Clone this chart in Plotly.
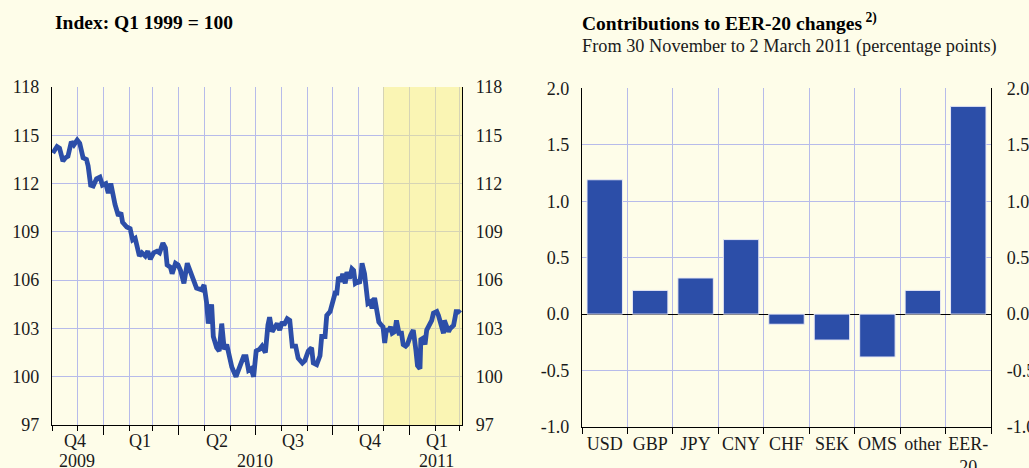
import plotly.graph_objects as go

# ---------------- data ----------------
dates = [
    "2009-11-02", "2009-11-07", "2009-11-10", "2009-11-14", "2009-11-17", "2009-11-20", "2009-11-24", "2009-11-27",
    "2009-12-01", "2009-12-04", "2009-12-08", "2009-12-12", "2009-12-14", "2009-12-17", "2009-12-20", "2009-12-24",
    "2009-12-28", "2009-12-31", "2010-01-04", "2010-01-07", "2010-01-10", "2010-01-12", "2010-01-15", "2010-01-19",
    "2010-01-22", "2010-01-24", "2010-01-29", "2010-02-02", "2010-02-05", "2010-02-08", "2010-02-11", "2010-02-13",
    "2010-02-16", "2010-02-20", "2010-02-23", "2010-02-26", "2010-03-02", "2010-03-06", "2010-03-09", "2010-03-13",
    "2010-03-16", "2010-03-18", "2010-03-22", "2010-03-24", "2010-03-28", "2010-03-31", "2010-04-03", "2010-04-07",
    "2010-04-11", "2010-04-16", "2010-04-22", "2010-04-28", "2010-05-01", "2010-05-04", "2010-05-06", "2010-05-10",
    "2010-05-12", "2010-05-16", "2010-05-19", "2010-05-22", "2010-05-25", "2010-05-28", "2010-05-31", "2010-06-03",
    "2010-06-08", "2010-06-12", "2010-06-17", "2010-06-20", "2010-06-23", "2010-06-26", "2010-06-29", "2010-07-02",
    "2010-07-06", "2010-07-09", "2010-07-13", "2010-07-16", "2010-07-18", "2010-07-21", "2010-07-24", "2010-07-27",
    "2010-07-30", "2010-08-02", "2010-08-04", "2010-08-08", "2010-08-11", "2010-08-14", "2010-08-18", "2010-08-21",
    "2010-08-26", "2010-08-29", "2010-09-02", "2010-09-06", "2010-09-08", "2010-09-12", "2010-09-16", "2010-09-18",
    "2010-09-22", "2010-09-24", "2010-09-28", "2010-10-01", "2010-10-04", "2010-10-06", "2010-10-08", "2010-10-11",
    "2010-10-13", "2010-10-16", "2010-10-18", "2010-10-21", "2010-10-24", "2010-10-26", "2010-10-28", "2010-10-31",
    "2010-11-02", "2010-11-04", "2010-11-05", "2010-11-08", "2010-11-10", "2010-11-12", "2010-11-15", "2010-11-17",
    "2010-11-20", "2010-11-22", "2010-11-25", "2010-11-28", "2010-11-30", "2010-12-02", "2010-12-04", "2010-12-07",
    "2010-12-09", "2010-12-11", "2010-12-14", "2010-12-16", "2010-12-19", "2010-12-22", "2010-12-24", "2010-12-27",
    "2010-12-29", "2011-01-02", "2011-01-05", "2011-01-08", "2011-01-10", "2011-01-13", "2011-01-14", "2011-01-17",
    "2011-01-19", "2011-01-21", "2011-01-24", "2011-01-27", "2011-01-29", "2011-02-02", "2011-02-04", "2011-02-07",
    "2011-02-10", "2011-02-11", "2011-02-13", "2011-02-16", "2011-02-18", "2011-02-22", "2011-02-24", "2011-02-25",
    "2011-02-28", "2011-03-02",
]
eer20_index = [
    113.9, 114.3, 114.2, 113.4, 113.6, 113.7, 114.6, 114.4,
    114.7, 114.5, 113.6, 113.5, 113.1, 111.9, 111.85, 112.3,
    112.4, 111.9, 112.0, 111.4, 112.0, 111.4, 110.7, 110.0,
    110.2, 109.6, 109.3, 109.2, 108.5, 108.6, 107.9, 107.5,
    107.7, 107.5, 107.8, 107.3, 107.7, 107.8, 107.7, 108.3,
    108.0, 106.95, 106.8, 106.4, 107.05, 106.95, 106.6, 105.8,
    107.05, 106.4, 105.5, 105.4, 105.7, 104.6, 103.3, 104.5,
    102.5, 101.8, 101.6, 103.3, 101.7, 102.0, 101.15, 100.6,
    100.0, 100.5, 101.25, 101.25, 100.4, 100.5, 100.0, 101.6,
    101.7, 101.9, 101.5, 103.2, 103.7, 102.8, 103.0, 103.3,
    102.9, 103.4, 103.2, 103.6, 103.5, 101.9, 101.9, 101.15,
    100.85, 101.0, 101.6, 101.8, 100.85, 100.75, 101.3, 102.5,
    102.5, 103.8, 104.05, 104.8, 105.2, 105.2, 106.2, 105.9,
    106.4, 105.8, 106.5, 106.1, 106.7, 106.6, 105.8, 105.9,
    105.8, 106.4, 107.05, 106.4, 105.6, 104.55, 104.65, 104.25,
    104.9, 104.25, 103.4, 103.2, 103.1, 102.1, 102.9, 102.9,
    103.1, 102.7, 102.8, 103.5, 102.7, 102.7, 102.0, 101.9,
    102.0, 102.6, 102.9, 101.7, 100.7, 100.5, 102.3, 102.4,
    102.0, 102.9, 103.2, 103.5, 103.95, 104.05, 103.8, 103.2,
    102.7, 103.5, 103.2, 102.8, 103.0, 103.2, 103.75, 104.05,
    104.05, 103.95,
]
left_yticks = [97, 100, 103, 106, 109, 112, 115, 118]
quarter_labels = ["Q4", "Q1", "Q2", "Q3", "Q4", "Q1"]
quarter_label_dates = ["2009-11-28", "2010-02-14", "2010-05-16", "2010-08-15", "2010-11-15", "2011-02-02"]
year_labels = ["2009", "2010", "2011"]
year_label_dates = ["2009-12-01", "2010-07-01", "2011-02-02"]
quarter_starts = ["2010-01-01", "2010-04-01", "2010-07-01", "2010-10-01", "2011-01-01"]
shade_start = "2010-11-30"
x_start, x_end = "2009-11-01", "2011-03-04"

currencies = ["USD", "GBP", "JPY", "CNY", "CHF", "SEK", "OMS", "other", "EER-<br>20"]
contributions = [1.19, 0.21, 0.32, 0.66, -0.09, -0.23, -0.38, 0.21, 1.84]
right_yticks = [-1.0, -0.5, 0.0, 0.5, 1.0, 1.5, 2.0]
right_ticktext = ["-1.0", "-0.5", "0.0", "0.5", "1.0", "1.5", "2.0"]

# ---------------- style ----------------
BG = "#FEFDE9"
GRID = "#B7BBEA"
BLUE = "#2C4EA8"
SHADE = "#F6ED80"
FONT = "Liberation Serif"
TXT = "#1A1A1A"
W, H = 1029, 468

def px(v):
    return v / W

def py(v):
    return 1 - v / H

L_X = [px(52), px(462)]
L_Y = [py(425), py(87)]
R_X = [px(582), px(991)]
R_Y = [py(427), py(88.3)]

fig = go.Figure()

fig.add_trace(go.Scatter(
    x=dates, y=eer20_index, mode="lines",
    line=dict(color=BLUE, width=4.8), xaxis="x", yaxis="y",
    showlegend=False, hoverinfo="skip",
))
fig.add_trace(go.Scatter(x=[], y=[], xaxis="x", yaxis="y3", showlegend=False))

fig.add_trace(go.Bar(
    x=currencies, y=contributions, xaxis="x2", yaxis="y2",
    marker=dict(color=BLUE, line=dict(color="#E8E9F5", width=1)),
    width=0.78, showlegend=False, hoverinfo="skip",
))
fig.add_trace(go.Scatter(x=[], y=[], xaxis="x2", yaxis="y4", showlegend=False))

tickfont = dict(family=FONT, size=18, color=TXT)

fig.update_layout(
    width=W, height=H,
    margin=dict(l=0, r=0, t=0, b=0, autoexpand=False),
    paper_bgcolor=BG, plot_bgcolor=BG,
    font=dict(family=FONT, color=TXT),
    hovermode=False,
    xaxis=dict(
        domain=L_X, anchor="y", type="date", range=[x_start, x_end], automargin=False,
        tickvals=quarter_starts, showticklabels=False,
        ticks="outside", ticklen=9, tickcolor="black", tickwidth=1,
        showgrid=True, gridcolor=GRID, gridwidth=1,
        showline=True, linecolor="black", linewidth=1.2,
        minor=dict(dtick="M1", tick0="2009-11-01", ticks="outside", ticklen=5,
                   tickcolor="black", showgrid=True, gridcolor=GRID, gridwidth=1),
        zeroline=False, fixedrange=True,
    ),
    yaxis=dict(
        domain=L_Y, anchor="x", range=[97, 118], tickvals=left_yticks, automargin=False,
        tickfont=tickfont, ticks="", ticklabelstandoff=8,
        showgrid=True, gridcolor=GRID, gridwidth=1.2,
        showline=True, linecolor="black", linewidth=1.2, zeroline=False,
    ),
    yaxis3=dict(
        overlaying="y", side="right", anchor="x", range=[97, 118], tickvals=left_yticks, automargin=False,
        tickfont=tickfont, ticks="", ticklabelstandoff=9, showgrid=False,
        showline=True, linecolor="black", linewidth=1.2, zeroline=False,
    ),
    xaxis2=dict(
        domain=R_X, anchor="y2", type="category", range=[-0.5, 8.5], automargin=False,
        tickson="boundaries", ticks="outside", ticklen=6, tickcolor="black", tickangle=0,
        tickfont=tickfont, showgrid=True, gridcolor=GRID, gridwidth=1,
        showline=True, linecolor="black", linewidth=1.2,
    ),
    yaxis2=dict(
        domain=R_Y, anchor="x2", range=[-1.0, 2.0], tickvals=right_yticks, ticktext=right_ticktext,
        automargin=False, tickfont=tickfont, ticks="", ticklabelstandoff=8,
        showgrid=True, gridcolor=GRID, gridwidth=1.2,
        zeroline=True, zerolinecolor="black", zerolinewidth=1.2,
        showline=True, linecolor="black", linewidth=1.2,
    ),
    yaxis4=dict(
        overlaying="y2", side="right", anchor="x2", range=[-1.0, 2.0], tickvals=right_yticks, ticktext=right_ticktext,
        automargin=False, tickfont=tickfont, ticks="", ticklabelstandoff=11, showgrid=False,
        showline=True, linecolor="black", linewidth=1.2, zeroline=False,
    ),
    bargap=0.22,
)

fig.add_shape(type="rect", xref="x", yref="y", x0=shade_start, x1=x_end, y0=97, y1=118,
              fillcolor=SHADE, opacity=0.5, line=dict(width=0), layer="between")

annotations = []
for lab, d in zip(quarter_labels, quarter_label_dates):
    annotations.append(dict(x=d, y=py(441), xref="x", yref="paper", text=lab, showarrow=False,
                            font=tickfont, xanchor="center", yanchor="middle"))
for lab, d in zip(year_labels, year_label_dates):
    annotations.append(dict(x=d, y=py(461), xref="x", yref="paper", text=lab, showarrow=False,
                            font=tickfont, xanchor="center", yanchor="middle"))
annotations.append(dict(x=px(53), y=py(22), xref="paper", yref="paper", xanchor="left", yanchor="middle",
                        text="<b>Index: Q1 1999 = 100</b>", showarrow=False,
                        font=dict(family=FONT, size=19.5, color="black")))
annotations.append(dict(x=px(580), y=py(22), xref="paper", yref="paper", xanchor="left", yanchor="middle",
                        text="<b>Contributions to EER-20 changes<sup> 2)</sup></b>", showarrow=False,
                        font=dict(family=FONT, size=19.5, color="black")))
annotations.append(dict(x=px(580), y=py(47), xref="paper", yref="paper", xanchor="left", yanchor="middle",
                        text="From 30 November to 2 March 2011 (percentage points)", showarrow=False,
                        font=dict(family=FONT, size=18.3, color=TXT)))
fig.update_layout(annotations=annotations)

fig.write_html(
    "out.html",
    config={"displayModeBar": False, "staticPlot": True},
    post_script="document.body.style.margin='0';document.body.style.overflow='hidden';"
                "document.body.style.background='" + BG + "';",
)
